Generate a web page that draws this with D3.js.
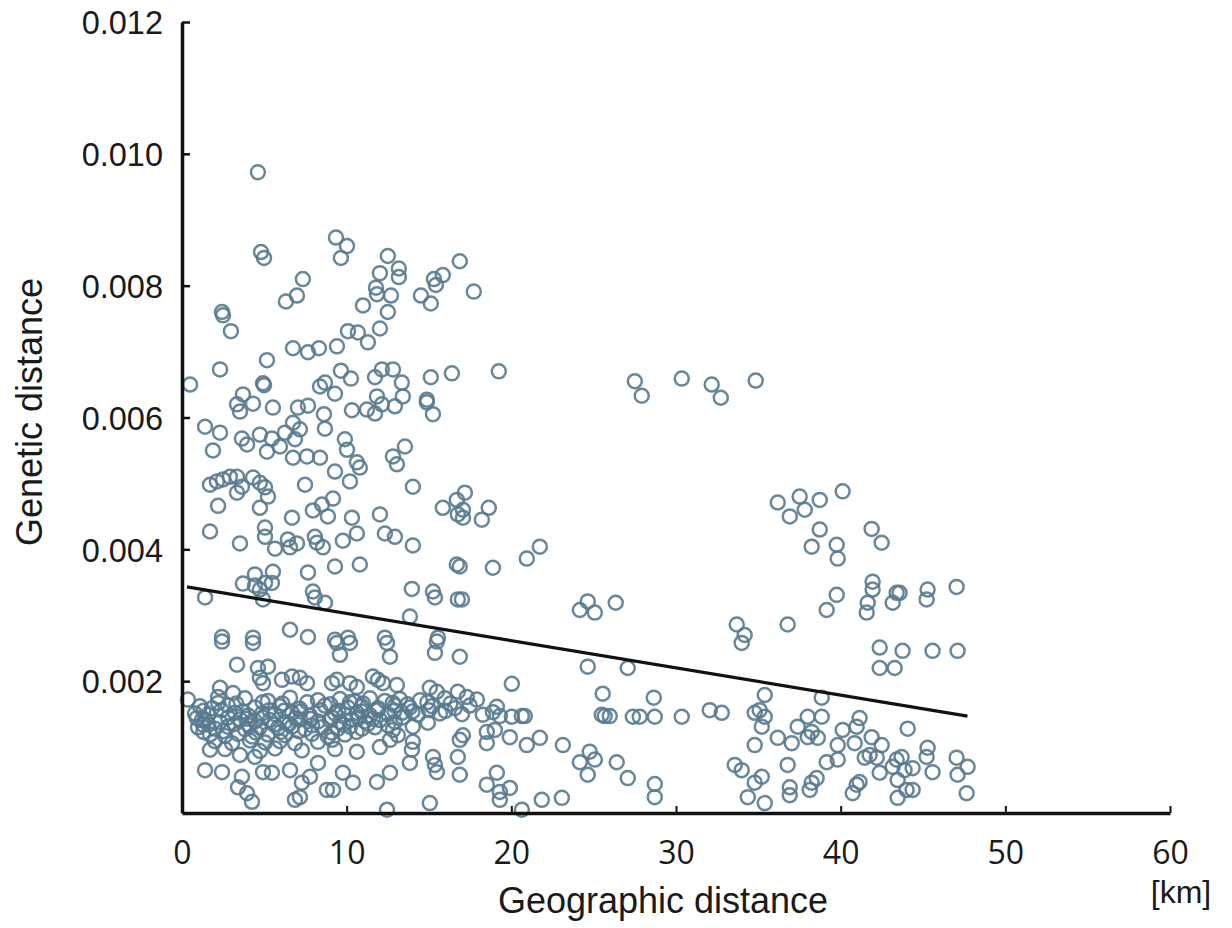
<!DOCTYPE html>
<html>
<head>
<meta charset="utf-8">
<script src="https://cdn.jsdelivr.net/npm/d3@7"></script>
<style>
  html, body { margin: 0; padding: 0; background: #ffffff; }
  svg { display: block; }
</style>
</head>
<body>
<svg id="chart" width="1232" height="928"></svg>
<script>
// ---- data: [geographic distance (km), genetic distance] ----
const samples = [
  // upper cloud (0–20 km)
  [4.61,0.00972],[4.80,0.00851],[4.98,0.00842],[9.35,0.00873],[10.02,0.00860],[9.65,0.00842],[12.5,0.00845],[13.17,0.00826],
  [13.17,0.00813],[12.02,0.00819],[11.78,0.00797],[11.84,0.00787],[12.69,0.00785],[12.5,0.00760],[10.99,0.00770],[10.08,0.00731],
  [10.68,0.00729],[11.29,0.00714],[12.02,0.00735],[16.87,0.00837],[15.84,0.00816],[15.3,0.00810],[15.42,0.00801],[14.51,0.00785],
  [15.11,0.00773],[17.72,0.00791],[7.34,0.00810],[6.98,0.00785],[6.31,0.00776],[2.43,0.00760],[2.49,0.00755],[2.97,0.00731],
  [6.74,0.00705],[7.65,0.00699],[8.32,0.00705],[9.41,0.00708],[5.16,0.00687],[2.31,0.00673],[0.49,0.00650],[4.92,0.00652],
  [4.98,0.00649],[3.70,0.00635],[8.38,0.00647],[8.68,0.00653],[9.29,0.00636],[9.65,0.00671],[10.26,0.00659],[11.72,0.00661],
  [12.14,0.00673],[12.81,0.00673],[13.35,0.00653],[11.84,0.00632],[13.41,0.00632],[15.11,0.00661],[16.39,0.00667],[14.87,0.00627],
  [19.24,0.00670],
  [27.5,0.00655],[27.92,0.00633],[30.35,0.00659],[32.17,0.00650],[32.72,0.00630],[34.84,0.00656],
  [3.34,0.00620],[3.52,0.00609],[4.31,0.00621],[5.52,0.00615],[7.04,0.00615],[7.65,0.00618],[8.62,0.00605],[8.68,0.00583],
  [10.32,0.00611],[11.23,0.00612],[11.72,0.00606],[12.14,0.00620],[12.93,0.00617],[14.87,0.00623],[15.24,0.00605],[1.40,0.00586],
  [2.31,0.00577],[1.88,0.00550],[3.64,0.00568],[3.95,0.00559],[4.73,0.00574],[5.16,0.00548],[5.46,0.00568],[5.95,0.00556],
  [6.25,0.00577],[6.74,0.00592],[6.86,0.00567],[7.16,0.00582],[6.74,0.00539],[7.59,0.00541],[8.38,0.00539],[9.89,0.00567],
  [10.02,0.00551],[10.62,0.00532],[10.80,0.00524],[12.81,0.00541],[13.05,0.00529],[13.54,0.00556],[1.70,0.00498],[2.12,0.00503],
  [2.49,0.00506],[2.91,0.00510],[3.34,0.00510],[3.64,0.00495],[4.31,0.00509],[4.73,0.00501],[5.04,0.00494],[5.22,0.00480],
  [3.34,0.00486],[7.47,0.00498],[9.29,0.00518],[10.2,0.00503],[14.02,0.00495],[2.19,0.00466],[4.73,0.00463],[7.95,0.00459],
  [8.5,0.00468],[9.17,0.00477],[8.86,0.00450],[6.68,0.00448],[10.32,0.00448],[12.02,0.00453],[15.84,0.00463],[16.69,0.00475],
  [16.75,0.00453],[1.70,0.00427],[3.52,0.00409],[5.04,0.00433],[5.04,0.00419],[5.65,0.00401],[6.43,0.00415],[6.56,0.00403],
  [6.98,0.00409],[8.07,0.00419],[8.19,0.00410],[8.56,0.00403],[9.77,0.00413],[10.62,0.00424],[12.32,0.00424],[12.93,0.00419],
  [14.02,0.00406],[9.29,0.00374],[10.80,0.00377],[7.65,0.00365],[5.52,0.00366],[4.43,0.00362],[3.70,0.00348],[4.43,0.00345],
  [5.04,0.00349],[5.46,0.00349],[4.73,0.00339],[1.40,0.00327],[4.92,0.00324],[7.95,0.00336],[8.07,0.00327],[8.68,0.00319],
  [13.96,0.00340],[15.24,0.00336],[15.36,0.00327],[16.69,0.00377],[16.75,0.00324],[13.84,0.00298],[6.56,0.00278],[2.43,0.00267],
  [4.31,0.00266],[7.65,0.00267],[9.29,0.00263],[10.08,0.00266],[12.32,0.00266],[15.54,0.00266],
  // 16–35 km, middle
  [17.18,0.00486],[17.06,0.00460],[17.06,0.00448],[18.63,0.00463],[18.21,0.00445],[16.87,0.00374],[18.88,0.00372],[20.94,0.00386],
  [21.73,0.00404],[17.0,0.00324],[24.16,0.00308],[24.64,0.00321],[25.07,0.00304],[26.34,0.00319],[33.69,0.00286],[34.17,0.00270],
  // 36–48 km, upper
  [36.18,0.00471],[37.51,0.00480],[36.91,0.00450],[37.82,0.00460],[38.73,0.00475],[40.12,0.00488],[38.73,0.00430],[38.24,0.00404],
  [39.76,0.00407],[39.82,0.00386],[41.88,0.00431],[42.49,0.00410],[41.94,0.00351],[41.94,0.00339],[39.76,0.00331],[39.15,0.00308],
  [41.64,0.00319],[41.58,0.00304],[43.40,0.00334],[43.58,0.00334],[43.16,0.00319],[45.28,0.00339],[45.22,0.00324],[47.04,0.00343],
  [36.78,0.00286],
  // 34–48 km, lower
  [42.37,0.00251],[43.76,0.00246],[45.58,0.00246],[47.10,0.00246],[42.37,0.00220],[43.28,0.00220],[35.39,0.00179],[38.85,0.00175],
  [44.07,0.00128],[34.78,0.00152],[35.08,0.00156],[35.39,0.00146],[35.21,0.00131],[34.78,0.00103],[36.18,0.00114],[37.03,0.00106],
  [36.78,0.00073],[35.21,0.00055],[34.78,0.00046],[35.39,0.00015],[36.91,0.00039],[36.91,0.00027],[37.39,0.00131],[38.0,0.00146],
  [38.85,0.00146],[38.24,0.00123],[38.61,0.00114],[38.0,0.00115],[39.15,0.00077],[39.82,0.00081],[40.12,0.00126],[40.97,0.00131],
  [41.15,0.00144],[40.85,0.00106],[39.82,0.00103],[41.88,0.00115],[42.49,0.00103],[41.76,0.00088],[42.19,0.00084],[41.46,0.00084],
  [38.24,0.00046],[38.12,0.00035],[38.54,0.00053],[40.97,0.00043],[40.73,0.00030],[41.15,0.00047],[42.37,0.00061],[43.40,0.00081],
  [43.70,0.00085],[43.16,0.00070],[43.88,0.00065],[44.37,0.00068],[43.46,0.00050],[44.0,0.00035],[44.37,0.00035],[43.46,0.00023],
  [45.28,0.00099],[45.22,0.00085],[45.58,0.00062],[47.04,0.00084],[47.71,0.00070],[47.10,0.00058],[47.65,0.00030],
  // 19–34 km, lower
  [24.64,0.00222],[27.07,0.00220],[20.03,0.00196],[33.99,0.00258],[25.55,0.00181],[28.65,0.00175],[19.30,0.00147],[20.03,0.00146],
  [20.64,0.00147],[20.82,0.00147],[25.49,0.00149],[25.67,0.00147],[25.98,0.00147],[27.38,0.00146],[27.8,0.00146],[28.71,0.00146],
  [30.35,0.00146],[32.05,0.00156],[32.78,0.00152],[19.0,0.00126],[19.91,0.00115],[20.94,0.00103],[21.73,0.00114],[23.13,0.00103],
  [24.16,0.00077],[24.76,0.00093],[25.07,0.00081],[24.64,0.00058],[26.4,0.00077],[27.07,0.00053],[28.71,0.00044],[28.71,0.00024],
  [33.57,0.00073],[33.99,0.00065],[34.36,0.00024],[19.91,0.00038],[19.30,0.00032],[19.30,0.00020],[21.85,0.00020],[23.07,0.00023],
  [20.64,0.00005],
  // 9–19 km, lower
  [9.41,0.00258],[10.2,0.00258],[9.59,0.00240],[12.45,0.00258],[12.63,0.00237],[15.48,0.00260],[15.36,0.00243],[16.87,0.00237],
  [14.02,0.00131],[14.93,0.00137],[14.02,0.00108],[13.96,0.00096],[13.84,0.00076],[15.24,0.00085],[15.36,0.00073],[15.48,0.00062],
  [16.87,0.00111],[17.06,0.00118],[16.75,0.00085],[16.87,0.00058],[18.51,0.00123],[18.51,0.00106],[18.27,0.00149],[18.88,0.00153],
  [10.62,0.00093],[12.02,0.00100],[12.81,0.00126],[13.11,0.00118],[12.63,0.00111],[9.77,0.00061],[10.38,0.00046],[11.84,0.00047],
  [12.63,0.00061],[18.51,0.00043],[19.12,0.00061],[15.05,0.00015],[12.45,0.00005],[9.17,0.00035],[9.11,0.00111],
  // 0–9 km, lower
  [2.43,0.00260],[4.31,0.00258],[3.34,0.00225],[4.61,0.00220],[5.22,0.00222],[4.73,0.00205],[4.92,0.00197],[0.36,0.00172],
  [2.31,0.00190],[2.19,0.00176],[3.10,0.00182],[6.07,0.00202],[6.68,0.00207],[7.16,0.00205],[7.59,0.00197],[9.11,0.00197],
  [1.40,0.00065],[2.43,0.00062],[3.64,0.00055],[3.40,0.00039],[3.95,0.00030],[4.25,0.00017],[4.92,0.00062],[5.46,0.00061],
  [3.52,0.00088],[4.43,0.00085],[6.56,0.00065],[7.28,0.00046],[7.16,0.00024],[6.86,0.00020],[7.77,0.00055],[8.80,0.00035],
  [8.26,0.00076],[1.70,0.00096],[1.27,0.00134],[1.21,0.00141],
  // dense band 0–19 km around 0.001–0.002
  [3.82,0.00174],[5.22,0.00170],[6.56,0.00175],[8.26,0.00171],[9.59,0.00173],[10.50,0.00169],[11.41,0.00174],[12.32,0.00170],
  [13.23,0.00173],[14.45,0.00171],[15.96,0.00174],
  [1.09,0.00162],[1.82,0.00159],[2.79,0.00163],[4.43,0.00160],[5.95,0.00162],[7.16,0.00158],[8.68,0.00163],[10.08,0.00160],
  [10.93,0.00162],[11.90,0.00159],[12.93,0.00163],[13.84,0.00160],[15.18,0.00162],[16.57,0.00159],[17.48,0.00163],
  [0.79,0.00151],[1.58,0.00149],[3.22,0.00152],[4.01,0.00148],[4.86,0.00151],[5.65,0.00150],[6.68,0.00152],[7.77,0.00148],
  [9.29,0.00151],[9.89,0.00149],[10.62,0.00152],[11.41,0.00148],[12.50,0.00150],[13.35,0.00152],[14.33,0.00149],[15.66,0.00151],
  [17.0,0.00150],
  [1.40,0.00141],[2.31,0.00138],[3.52,0.00142],[4.43,0.00139],[5.34,0.00141],[6.25,0.00138],[7.16,0.00142],[8.26,0.00139],
  [8.98,0.00141],[9.59,0.00138],[10.32,0.00142],[11.11,0.00139],[12.02,0.00141],[12.93,0.00138],
  [0.97,0.00130],[2.00,0.00128],[2.79,0.00131],[3.82,0.00127],[4.73,0.00130],[5.83,0.00129],[6.68,0.00131],[7.47,0.00127],
  [8.50,0.00130],[9.47,0.00128],[10.20,0.00131],[10.93,0.00128],[11.72,0.00130],
  [1.70,0.00119],[2.61,0.00117],[3.40,0.00120],[4.25,0.00116],[5.22,0.00119],[6.25,0.00118],[7.89,0.00120],[8.86,0.00116],
  [9.89,0.00119],
  [2.00,0.00109],[3.04,0.00106],[4.13,0.00110],[5.04,0.00107],[5.95,0.00109],[6.86,0.00106],[8.26,0.00108],
  [2.61,0.00097],[4.73,0.00094],[5.65,0.00098],[7.28,0.00095],[9.29,0.00097],
  [11.59,0.00207],[11.90,0.00202],[12.20,0.00197],[13.05,0.00194],[15.05,0.00190],[15.48,0.00184],[16.75,0.00184],[17.30,0.00176],
  [17.91,0.00172],[19.12,0.00161],[9.41,0.00202],[10.20,0.00197],[10.62,0.00191],
  [2.2,0.00167],[3.3,0.00166],[4.9,0.00168],[6.1,0.00166],[7.6,0.00168],[9.0,0.00165],[10.2,0.00168],[11.0,0.00166],
  [12.8,0.00167],[13.7,0.00165],[14.9,0.00168],[16.3,0.00166],
  [1.3,0.00155],[2.4,0.00156],[3.7,0.00154],[5.3,0.00156],[6.2,0.00155],[7.2,0.00154],[8.4,0.00156],[9.5,0.00155],
  [10.9,0.00154],[11.9,0.00156],[12.9,0.00155],[14.0,0.00154],[15.0,0.00156],[16.0,0.00155],
  [0.9,0.00144],[2.8,0.00145],[3.9,0.00143],[4.9,0.00145],[6.9,0.00144],[7.8,0.00143],[9.1,0.00145],[10.7,0.00144],
  [11.6,0.00143],[13.4,0.00145],
  [1.6,0.00134],[3.2,0.00135],[4.1,0.00133],[5.6,0.00134],[6.5,0.00135],[7.9,0.00133],[9.8,0.00134],[11.3,0.00135],
  [12.5,0.00133],
  [1.3,0.00123],[2.5,0.00124],[4.5,0.00122],[6.0,0.00123],[7.1,0.00124],[9.1,0.00122],[10.6,0.00123]
];

// regression line end points
const trendKm = [0.3, 47.7];
const trendDist = [0.00343, 0.00147];

// axes
const xTicks = [0, 10, 20, 30, 40, 50, 60];
const yTicks = [0.002, 0.004, 0.006, 0.008, 0.010, 0.012];
const xTitle = "Geographic distance";
const xUnit = "[km]";
const yTitle = "Genetic distance";

// ---- drawing ----
const svg = d3.select("#chart");
svg.append("rect").attr("width", 1232).attr("height", 928).attr("fill", "#ffffff");

const x = d3.scaleLinear().domain([0, 60]).range([182, 1170]);
const y = d3.scaleLinear().domain([0, 0.012]).range([813, 22]);

// points
svg.append("g")
  .selectAll("circle")
  .data(samples)
  .join("circle")
  .attr("cx", d => x(d[0]))
  .attr("cy", d => y(d[1]))
  .attr("r", 7)
  .attr("fill", "none")
  .attr("stroke", "#587a8f")
  .attr("stroke-opacity", 0.9)
  .attr("stroke-width", 2.5);

// trend line
svg.append("line")
  .attr("x1", x(trendKm[0])).attr("y1", y(trendDist[0]))
  .attr("x2", x(trendKm[1])).attr("y2", y(trendDist[1]))
  .attr("stroke", "#111")
  .attr("stroke-width", 3.2);

// y axis
const yAxis = d3.axisLeft(y)
  .tickValues(yTicks)
  .tickSizeInner(-8)
  .tickSizeOuter(0)
  .tickPadding(19)
  .tickFormat(d3.format(".3f"));
const gy = svg.append("g").attr("transform", "translate(182,0)").call(yAxis);
gy.select(".domain").attr("stroke", "#111").attr("stroke-width", 3.5);
gy.selectAll(".tick line").attr("stroke", "#111").attr("stroke-width", 2.5);
gy.selectAll(".tick text")
  .attr("font-family", "'Liberation Sans', Arial, sans-serif")
  .attr("font-size", 32.5)
  .attr("fill", "#1a1a1a")
  .attr("dy", "0.36em");

// x axis
const xAxis = d3.axisBottom(x)
  .tickValues(xTicks)
  .tickSizeInner(-7)
  .tickSizeOuter(0)
  .tickPadding(28)
  .tickFormat(d3.format("d"));
const gx = svg.append("g").attr("transform", "translate(0,813)").call(xAxis);
gx.select(".domain").attr("stroke", "#111").attr("stroke-width", 3.5);
gx.selectAll(".tick line").attr("stroke", "#111").attr("stroke-width", 2);
gx.selectAll(".tick text")
  .attr("font-family", "'Open Sans', 'Noto Sans', sans-serif")
  .attr("font-size", 32)
  .attr("fill", "#1a1a1a")
  .attr("dy", "0.71em");

// titles
svg.append("text")
  .attr("x", 663).attr("y", 913)
  .attr("text-anchor", "middle")
  .attr("font-family", "'Liberation Sans', Arial, sans-serif")
  .attr("font-size", 36)
  .attr("fill", "#1a1a1a")
  .text(xTitle);

svg.append("text")
  .attr("x", 1181).attr("y", 903)
  .attr("text-anchor", "middle")
  .attr("font-family", "'Liberation Sans', Arial, sans-serif")
  .attr("font-size", 32)
  .attr("fill", "#1a1a1a")
  .text(xUnit);

svg.append("text")
  .attr("transform", "translate(42,412) rotate(-90)")
  .attr("text-anchor", "middle")
  .attr("font-family", "'Liberation Sans', Arial, sans-serif")
  .attr("font-size", 36)
  .attr("fill", "#1a1a1a")
  .text(yTitle);
</script>
</body>
</html>
